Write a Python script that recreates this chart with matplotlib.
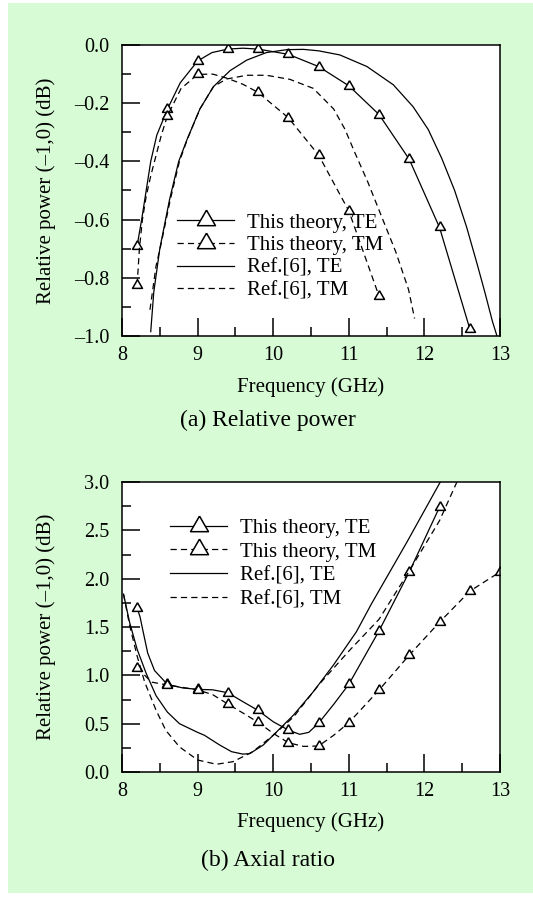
import numpy as np
import matplotlib.pyplot as plt
from matplotlib.ticker import MultipleLocator, FuncFormatter
from matplotlib.patches import Rectangle

plt.rcParams['font.family'] = ['Liberation Serif', 'DejaVu Serif']

# ---- (a) relative power ----
a_te_x = [8.2, 8.26, 8.32, 8.38, 8.46, 8.6, 8.77, 9.0, 9.19, 9.4, 9.6, 9.8, 10.2, 10.6, 11.0, 11.4, 11.8, 12.2, 12.6]
a_te_y = [-0.69, -0.60, -0.50, -0.40, -0.31, -0.221, -0.13, -0.055, -0.026, -0.014, -0.011, -0.014, -0.032, -0.074, -0.14, -0.239, -0.393, -0.627, -0.975]
a_te_mark = [8.2, 8.6, 9.0, 9.4, 9.8, 10.2, 10.6, 11.0, 11.4, 11.8, 12.2, 12.6]

a_tm_x = [8.2, 8.23, 8.27, 8.32, 8.38, 8.45, 8.52, 8.6, 8.78, 9.0, 9.2, 9.4, 9.6, 9.8, 10.2, 10.6, 11.0, 11.4]
a_tm_y = [-0.825, -0.70, -0.60, -0.52, -0.45, -0.38, -0.31, -0.244, -0.15, -0.101, -0.10, -0.115, -0.135, -0.163, -0.25, -0.378, -0.57, -0.863]
a_tm_mark = [8.2, 8.6, 9.0, 9.8, 10.2, 10.6, 11.0, 11.4]

a_ref_te_x = [8.38, 8.42, 8.5, 8.63, 8.75, 8.86, 9.03, 9.21, 9.43, 9.65, 9.91, 10.18, 10.4, 10.6, 10.88, 11.24,
              11.59, 11.85, 12.05, 12.23, 12.4, 12.56, 12.7, 12.8, 12.9, 12.96]
a_ref_te_y = [-0.985, -0.85, -0.70, -0.53, -0.40, -0.325, -0.22, -0.143, -0.088, -0.052, -0.026, -0.016, -0.015,
              -0.02, -0.034, -0.074, -0.137, -0.212, -0.29, -0.39, -0.50, -0.627, -0.755, -0.85, -0.95, -1.0]

a_ref_tm_x = [8.37, 8.45, 8.52, 8.64, 8.76, 8.87, 9.03, 9.21, 9.38, 9.65, 9.91, 10.22, 10.53, 10.8, 10.95, 11.08,
              11.25, 11.45, 11.62, 11.79, 11.87]
a_ref_tm_y = [-0.91, -0.76, -0.68, -0.53, -0.40, -0.32, -0.22, -0.143, -0.117, -0.104, -0.104, -0.118, -0.149,
              -0.22, -0.29, -0.37, -0.47, -0.60, -0.71, -0.84, -0.94]

# ---- (b) axial ratio ----
b_te_x = [8.2, 8.24, 8.28, 8.34, 8.43, 8.6, 8.8, 9.0, 9.2, 9.4, 9.6, 9.8, 10.0, 10.2, 10.35, 10.47, 10.6, 10.8,
          11.0, 11.4, 11.8, 12.2]
b_te_y = [1.70, 1.60, 1.45, 1.23, 1.05, 0.907, 0.87, 0.855, 0.85, 0.82, 0.727, 0.637, 0.52, 0.434, 0.39, 0.41,
          0.505, 0.70, 0.907, 1.46, 2.07, 2.74]
b_te_mark = [8.2, 8.6, 9.0, 9.4, 9.8, 10.2, 10.6, 11.0, 11.4, 11.8, 12.2]

b_tm_x = [8.2, 8.39, 8.6, 9.0, 9.2, 9.4, 9.6, 9.8, 10.0, 10.2, 10.4, 10.6, 10.8, 11.0, 11.4, 11.8, 12.2, 12.6, 13.0]
b_tm_y = [1.08, 0.93, 0.90, 0.85, 0.80, 0.703, 0.61, 0.514, 0.40, 0.303, 0.265, 0.269, 0.38, 0.51, 0.848, 1.21,
          1.55, 1.87, 2.07]
b_tm_mark = [8.2, 8.6, 9.0, 9.4, 9.8, 10.2, 10.6, 11.0, 11.4, 11.8, 12.2, 12.6, 13.0]

b_ref_te_x = [8.02, 8.1, 8.2, 8.32, 8.45, 8.6, 8.76, 9.0, 9.09, 9.29, 9.45, 9.6, 9.69, 9.87, 10.0, 10.27, 10.53,
              10.8, 11.1, 11.3, 11.77, 12.21]
b_ref_te_y = [1.84, 1.55, 1.27, 1.02, 0.79, 0.62, 0.50, 0.41, 0.38, 0.28, 0.21, 0.185, 0.19, 0.28, 0.38, 0.59, 0.83,
              1.11, 1.45, 1.74, 2.38, 3.0]

b_ref_tm_x = [8.02, 8.1, 8.2, 8.3, 8.45, 8.58, 8.76, 9.0, 9.25, 9.47, 9.73, 10.0, 10.27, 10.6, 11.0, 11.4, 11.8,
              12.2, 12.43]
b_ref_tm_y = [1.84, 1.52, 1.20, 0.93, 0.64, 0.43, 0.26, 0.124, 0.08, 0.107, 0.21, 0.38, 0.57, 0.90, 1.25, 1.58,
              2.08, 2.6, 3.0]

labels = ['This theory, TE', 'This theory, TM', 'Ref.[6], TE', 'Ref.[6], TM']
ylab = 'Relative power (\u20131,0) (dB)'

tri = [(0, 1), (-0.866, -0.5), (0.866, -0.5), (0, 1)]
dash = (0, (5, 3.3))

W, H = 533, 901
fig = plt.figure(figsize=(W / 100, H / 100), dpi=100)
fig.add_artist(Rectangle((8 / W, 1 - 893 / H), 525 / W, 890 / H, transform=fig.transFigure,
                         facecolor='#d7fcd5', edgecolor='none', zorder=-5))

ax1 = fig.add_axes([122 / W, 1 - 336 / H, 378 / W, 291 / H])
ax2 = fig.add_axes([122 / W, 1 - 772 / H, 378 / W, 290 / H])


def mask(xs, marks):
    return [x in marks for x in xs]


def draw(ax, te, tm, rte, rtm):
    ax.plot(te[0], te[1], color='k', lw=0.9, ls='-', marker=tri, markevery=mask(te[0], te[2]), ms=8.3,
            mfc='white', mec='k', mew=1.1, label=labels[0])
    ax.plot(tm[0], tm[1], color='k', lw=0.9, ls=dash, marker=tri, markevery=mask(tm[0], tm[2]), ms=8.3,
            mfc='white', mec='k', mew=1.1, label=labels[1])
    ax.plot(rte[0], rte[1], color='k', lw=0.9, ls='-', label=labels[2])
    ax.plot(rtm[0], rtm[1], color='k', lw=0.9, ls=dash, label=labels[3])


draw(ax1, (a_te_x, a_te_y, a_te_mark), (a_tm_x, a_tm_y, a_tm_mark),
     (a_ref_te_x, a_ref_te_y), (a_ref_tm_x, a_ref_tm_y))
draw(ax2, (b_te_x, b_te_y, b_te_mark), (b_tm_x, b_tm_y, b_tm_mark),
     (b_ref_te_x, b_ref_te_y), (b_ref_tm_x, b_ref_tm_y))

yfmt = FuncFormatter(lambda v, p: ('%.1f' % v).replace('-', '\u2013'))

ax1.set_ylim(-1.0, 0.0)
ax1.yaxis.set_major_locator(MultipleLocator(0.2))
ax1.yaxis.set_minor_locator(MultipleLocator(0.1))
ax2.set_ylim(0.0, 3.0)
ax2.yaxis.set_major_locator(MultipleLocator(0.5))
ax2.yaxis.set_minor_locator(MultipleLocator(0.25))

for ax in (ax1, ax2):
    ax.yaxis.set_major_formatter(yfmt)
    ax.set_xlim(8, 13)
    ax.xaxis.set_major_locator(MultipleLocator(1))
    ax.xaxis.set_minor_locator(MultipleLocator(0.5))
    ax.tick_params(which='both', direction='in', top=False, right=False, width=1.1, labelsize=14.5)
    ax.tick_params(which='major', length=13)
    ax.tick_params(which='minor', length=6.5)
    ax.tick_params(axis='x', pad=7)
    ax.tick_params(axis='y', pad=9)
    for s in ax.spines.values():
        s.set_linewidth(1.1)
    ax.set_xlabel('Frequency (GHz)', fontsize=15)
    ax.xaxis.label.set_va('center')
    ax.xaxis.set_label_coords(0.5, -0.174)
    ax.set_ylabel(ylab, fontsize=15)
    ax.yaxis.label.set_va('center')
    ax.yaxis.set_label_coords(-0.201, 0.5)

ax1.legend(loc='upper left', bbox_to_anchor=(0.1455, 0.4227), frameon=False, borderpad=0, borderaxespad=0,
           handlelength=2.75, handletextpad=0.6, labelspacing=0.15, fontsize=15, markerscale=1.8, numpoints=1)
ax2.legend(loc='upper left', bbox_to_anchor=(0.127, 0.875), frameon=False, borderpad=0, borderaxespad=0,
           handlelength=2.75, handletextpad=0.6, labelspacing=0.2, fontsize=15, markerscale=1.8, numpoints=1)

fig.text(268 / W, 1 - 420 / H, '(a) Relative power', ha='center', va='center', fontsize=17)
fig.text(268 / W, 1 - 860 / H, '(b) Axial ratio', ha='center', va='center', fontsize=17)

fig.savefig('out.png', dpi=100)
